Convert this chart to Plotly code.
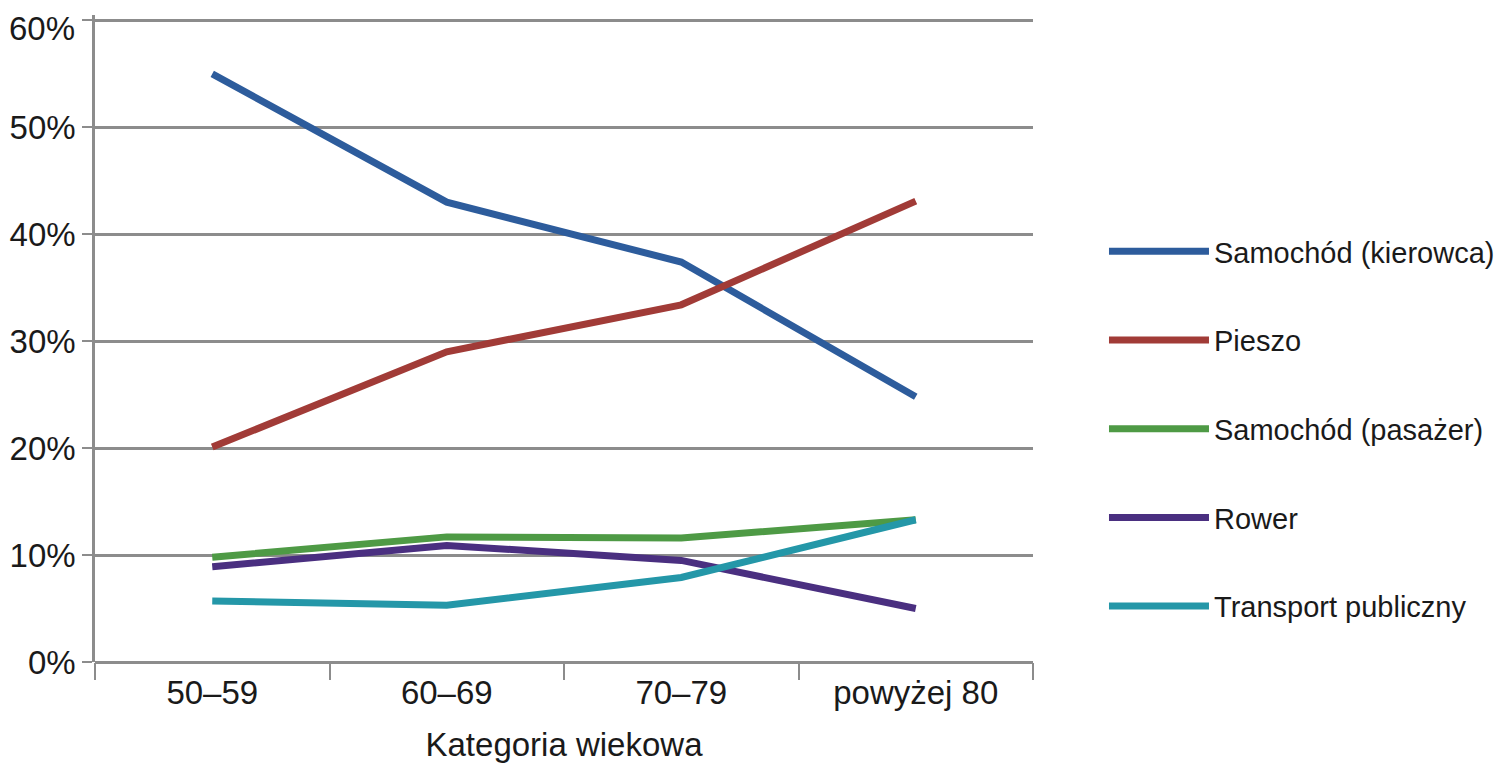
import plotly.graph_objects as go

categories = ["50–59", "60–69", "70–79", "powyżej 80"]
series_names = ["Samochód (kierowca)", "Pieszo", "Samochód (pasażer)", "Rower", "Transport publiczny"]
kierowca = [0.55, 0.43, 0.374, 0.248]
pieszo = [0.201, 0.29, 0.334, 0.431]
pasazer = [0.098, 0.117, 0.116, 0.133]
rower = [0.089, 0.109, 0.095, 0.050]
transport = [0.057, 0.053, 0.079, 0.133]
y_ticks = [0, 0.1, 0.2, 0.3, 0.4, 0.5, 0.6]
y_tick_labels = ["0%", "10%", "20%", "30%", "40%", "50%", "60%"]

colors = ["#2d5c9c", "#a13b37", "#4e9a45", "#4a2f80", "#2497a8"]
values = [kierowca, pieszo, pasazer, rower, transport]

FONT = "Liberation Sans Narrow, Liberation Sans, Arial, sans-serif"
GRID = "#8c8c8c"
TXT = "#1a1a1a"

fig = go.Figure()
for i, (name, vals, col) in enumerate(zip(series_names, values, colors)):
    fig.add_trace(go.Scatter(
        x=categories, y=vals, mode="lines", name=name,
        line=dict(color=col, width=7),
        legendgroup=f"g{i}",
    ))

# top tick label is nudged down (as in the original) so it stays inside the page
tick_text = y_tick_labels[:-1] + [""]
fig.add_annotation(
    x=0, xref="paper", y=y_ticks[-1], yref="y",
    text=y_tick_labels[-1], showarrow=False,
    xanchor="right", yanchor="middle", xshift=-18, yshift=-8,
    font=dict(family=FONT, size=33, color=TXT),
)

fig.update_layout(
    width=1503, height=764,
    margin=dict(l=87, r=478, t=7, b=110, autoexpand=False),
    paper_bgcolor="white", plot_bgcolor="white",
    font=dict(family=FONT, size=33, color=TXT),
    showlegend=True,
    legend=dict(
        xref="container", yref="container",
        x=0.7292, xanchor="left", y=0.449, yanchor="middle",
        font=dict(family=FONT, size=29, color=TXT),
        itemwidth=100, tracegroupgap=48, traceorder="grouped",
        maxheight=700,
        bgcolor="rgba(0,0,0,0)",
    ),
    xaxis=dict(
        type="category", tickson="boundaries", ticks="outside", ticklen=17,
        tickcolor=GRID, tickwidth=2,
        showline=False, showgrid=False, zeroline=False, automargin=False,
        title=dict(text="Kategoria wiekowa", font=dict(family=FONT, size=33), standoff=22),
        tickfont=dict(family=FONT, size=33),
        ticklabelstandoff=8,
        range=[-0.5, 3.5],
    ),
    yaxis=dict(
        range=[0, 0.605], tickvals=y_ticks, ticktext=tick_text,
        ticks="outside", ticklen=10, tickcolor=GRID, tickwidth=2,
        showgrid=True, gridcolor=GRID, gridwidth=2.5,
        showline=True, linecolor=GRID, linewidth=2.5,
        zeroline=True, zerolinecolor=GRID, zerolinewidth=2.5,
        tickfont=dict(family=FONT, size=33),
        ticklabelstandoff=0, automargin=False,
        ticklabeloverflow="allow",
    ),
)

fig.write_html("out.html")
